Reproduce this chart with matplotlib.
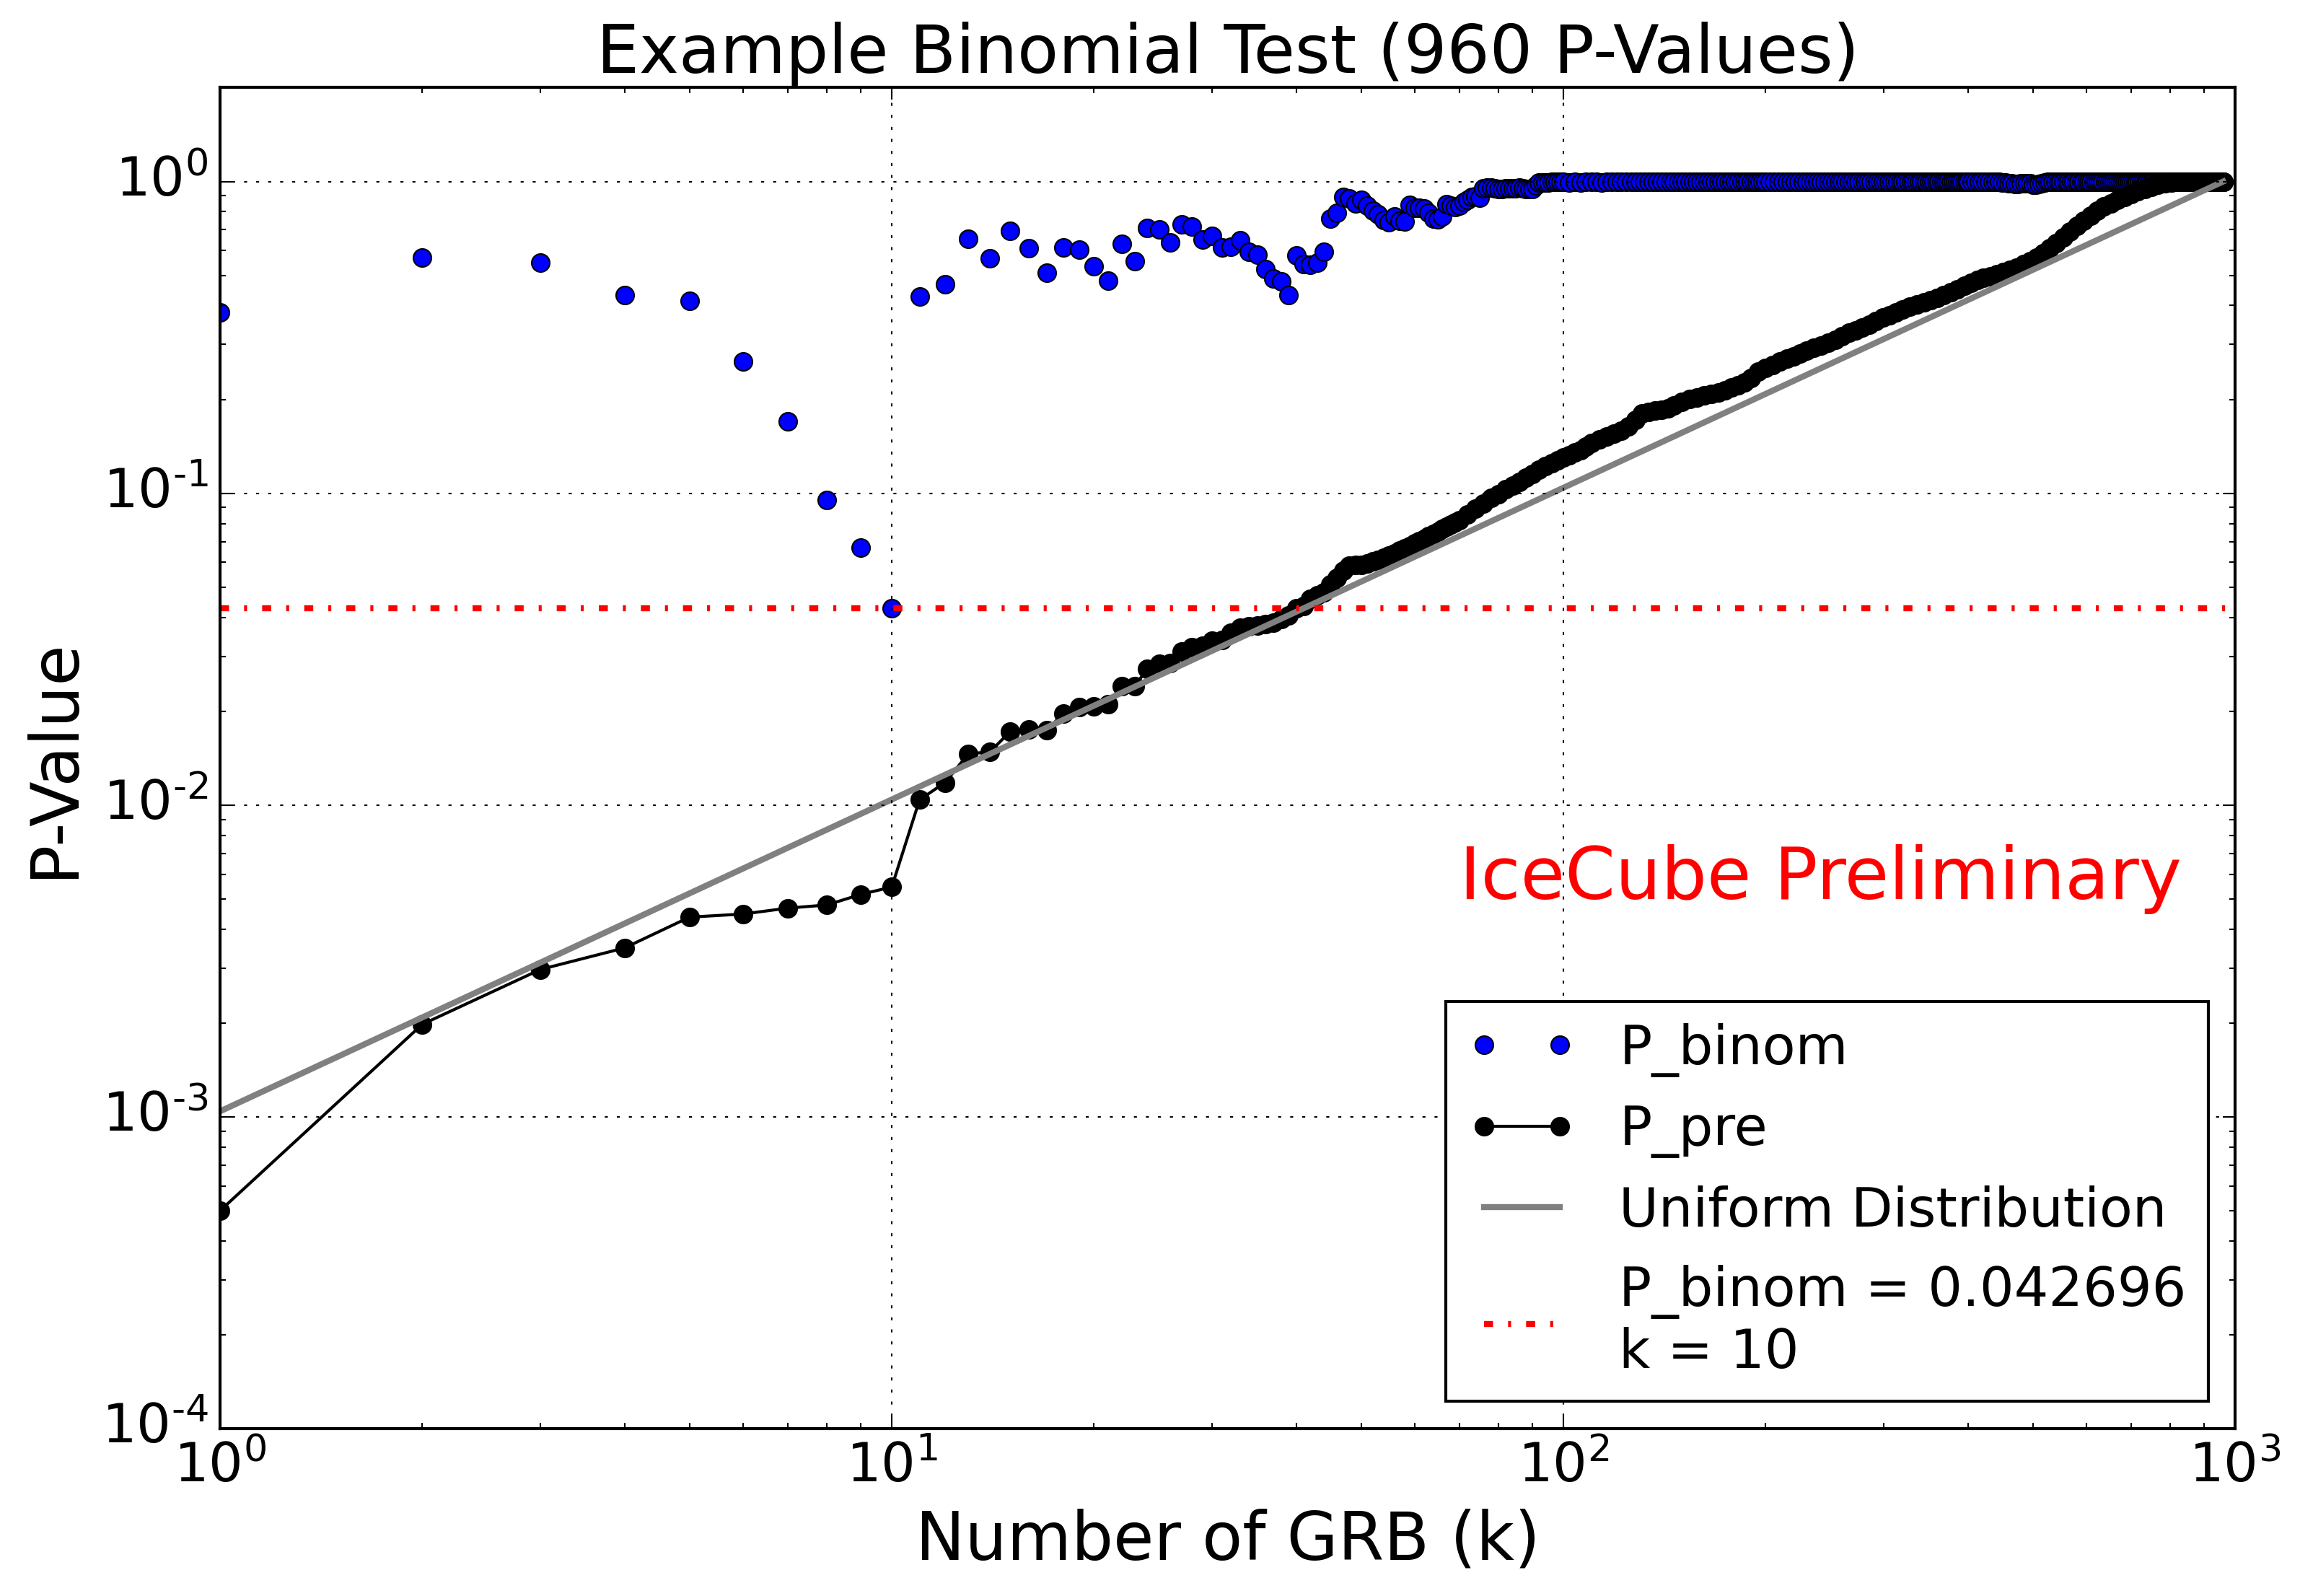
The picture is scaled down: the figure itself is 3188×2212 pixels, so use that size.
import matplotlib
matplotlib.use('Agg')
import matplotlib.pyplot as plt
from matplotlib.ticker import FuncFormatter
import numpy as np

plt.style.use('classic')

# P_binom at each number of GRBs k (every k up to 100, then sampled)
k_binom = (list(range(1, 101)) + list(range(102, 200, 2))
           + list(range(200, 400, 3)) + list(range(400, 961, 5)))
p_binom = [
    0.380, 0.569, 0.548, 0.431, 0.413, 0.265, 0.170, 0.0949, 0.0668, 0.042696,
    0.427, 0.469, 0.653, 0.566, 0.693, 0.610, 0.511, 0.614, 0.606, 0.534,
    0.480, 0.630, 0.554, 0.708, 0.700, 0.636, 0.728, 0.716, 0.652, 0.670,
    0.613, 0.618, 0.649, 0.594, 0.583, 0.523, 0.488, 0.478, 0.431, 0.578,
    0.544, 0.541, 0.550, 0.594, 0.759, 0.792, 0.890, 0.882, 0.851, 0.874,
    0.837, 0.807, 0.783, 0.752, 0.739, 0.772, 0.748, 0.743, 0.841, 0.822,
    0.822, 0.818, 0.793, 0.760, 0.755, 0.772, 0.844, 0.838, 0.829, 0.835,
    0.860, 0.874, 0.890, 0.898, 0.886, 0.950, 0.955, 0.956, 0.950, 0.948,
    0.946, 0.950, 0.950, 0.952, 0.953, 0.955, 0.950, 0.948, 0.944, 0.945,
    0.970, 0.990, 0.990, 0.990, 0.993, 0.995, 0.995, 0.995, 0.998, 1.0,
    # k = 102 .. 198
    0.990, 0.995, 0.990, 0.995, 0.995, 0.995, 0.990, 0.995, 0.995, 0.998,
    0.995, 0.998, 0.998, 0.998, 1.0, 0.998, 1.0, 1.0, 0.998, 1.0,
    1.0, 0.998, 1.0, 1.0, 1.0, 0.998, 1.0, 1.0, 1.0, 1.0,
    1.0, 1.0, 0.998, 1.0, 1.0, 1.0, 1.0, 1.0, 1.0, 1.0,
    1.0, 1.0, 1.0, 1.0, 1.0, 1.0, 1.0, 1.0, 1.0,
    # k = 200 .. 398
    1.0, 1.0, 1.0, 1.0, 1.0, 1.0, 1.0, 1.0, 1.0, 1.0,
    1.0, 1.0, 1.0, 1.0, 1.0, 1.0, 1.0, 1.0, 1.0, 1.0,
    1.0, 1.0, 1.0, 1.0, 1.0, 1.0, 1.0, 1.0, 1.0, 1.0,
    1.0, 1.0, 1.0, 1.0, 1.0, 1.0, 1.0, 1.0, 1.0, 1.0,
    1.0, 1.0, 1.0, 1.0, 1.0, 1.0, 1.0, 1.0, 1.0, 1.0,
    1.0, 1.0, 1.0, 1.0, 1.0, 1.0, 1.0, 1.0, 1.0, 1.0,
    1.0, 1.0, 1.0, 1.0, 0.998, 0.998, 0.998,
    # k = 400 .. 960
    1.0, 1.0, 1.0, 1.0, 0.998, 0.998, 0.998, 0.998,
    0.995, 0.995, 0.993, 0.990, 0.985, 0.985, 0.982, 0.980, 0.985, 0.988,
    0.988, 0.985, 0.978, 0.978, 0.982, 0.985, 0.990, 0.995, 0.998,
    1.0, 1.0, 1.0, 1.0, 1.0, 1.0, 1.0, 1.0, 1.0, 1.0,
    1.0, 1.0, 1.0, 1.0, 1.0, 1.0, 1.0, 1.0, 1.0, 1.0,
    1.0, 1.0, 1.0, 1.0, 1.0, 1.0, 1.0, 1.0, 1.0, 1.0,
    1.0, 1.0, 1.0, 1.0, 1.0, 1.0, 1.0, 1.0, 1.0, 1.0,
    1.0, 1.0, 1.0, 1.0, 1.0, 1.0, 1.0, 1.0, 1.0, 1.0,
    1.0, 1.0, 1.0, 1.0, 1.0, 1.0, 1.0, 1.0, 1.0, 1.0,
    1.0, 1.0, 1.0, 1.0, 1.0, 1.0, 1.0, 1.0, 1.0, 1.0,
    1.0, 1.0, 1.0, 1.0, 1.0, 1.0, 1.0, 1.0, 1.0, 1.0,
    1.0, 1.0, 1.0, 1.0, 1.0, 1.0]

# sorted P_pre, every k up to 70 and then sampled along the curve
k_pre = list(range(1, 71)) + [
    72, 74, 76, 78, 80, 82, 84, 86, 88, 90, 92, 94, 96, 98, 100,
    102, 104, 106, 108, 110,
    113, 116, 119, 122, 125, 128, 131, 134, 137, 140, 143, 146,
    150, 154, 158, 162, 166, 170, 174, 178, 182, 186, 190,
    195, 200, 205, 210, 215, 220, 225, 230,
    236, 242, 248, 254, 260, 266, 272, 278,
    285, 292, 299, 306, 313, 320,
    328, 336, 344, 352, 360, 368,
    377, 386, 395, 404, 413, 422,
    432, 442, 452, 462,
    473, 484, 495, 506, 518, 530, 542,
    555, 568, 581, 595, 609, 623, 638, 653, 668, 684, 700, 716, 733,
    750, 768, 786, 804, 823, 842, 862, 882, 903, 924, 945, 960]
p_pre = [
    0.0005, 0.00198, 0.00297, 0.00348, 0.00437, 0.00447, 0.00467, 0.00478, 0.00517, 0.00546,
    0.0104, 0.0118, 0.0146, 0.0148, 0.0172, 0.0175, 0.0174, 0.0196, 0.0206, 0.0207,
    0.0211, 0.0241, 0.0240, 0.0274, 0.0284, 0.0286, 0.0310, 0.0321, 0.0324, 0.0336,
    0.0339, 0.0357, 0.0370, 0.0374, 0.0377, 0.0380, 0.0384, 0.0395, 0.0405, 0.0427,
    0.0434, 0.0458, 0.0470, 0.0480, 0.0510, 0.0535, 0.0565, 0.0585, 0.0588, 0.0590,
    0.0595, 0.0605, 0.0610, 0.0620, 0.0632, 0.0643, 0.0655, 0.0665, 0.0677, 0.0690,
    0.0702, 0.0715, 0.0727, 0.0740, 0.0753, 0.0767, 0.0780, 0.0793, 0.0806, 0.0820,
    0.0853, 0.0890, 0.0925, 0.0965, 0.0995, 0.103, 0.106, 0.1085, 0.112, 0.1155,
    0.119, 0.122, 0.125, 0.1275, 0.130,
    0.1325, 0.135, 0.1375, 0.141, 0.145,
    0.149, 0.152, 0.155, 0.1585, 0.164, 0.172, 0.180, 0.1825, 0.184, 0.1855, 0.187, 0.191,
    0.196, 0.201, 0.203, 0.2055, 0.208, 0.210, 0.2135, 0.218, 0.222, 0.2265, 0.234,
    0.246, 0.252, 0.258, 0.264, 0.270, 0.275, 0.281, 0.287,
    0.293, 0.298, 0.304, 0.311, 0.319, 0.327, 0.333, 0.340,
    0.348, 0.357, 0.366, 0.373, 0.380, 0.388,
    0.396, 0.403, 0.409, 0.416, 0.423, 0.432,
    0.442, 0.452, 0.462, 0.473, 0.482, 0.490,
    0.497, 0.505, 0.512, 0.520,
    0.530, 0.542, 0.555, 0.570, 0.590, 0.612, 0.634,
    0.660, 0.690, 0.720, 0.750, 0.778, 0.805, 0.830, 0.852, 0.872, 0.893, 0.912, 0.930, 0.948,
    0.962, 0.975, 0.985, 0.992, 0.996, 0.998, 1.0, 1.0, 1.0, 1.0, 1.0, 1.0]

uniform_k = [1, 960]
uniform_p = [1.0 / 960, 1.0]

p_binom_min = 0.042696
k_min = 10


def decade_label(val, pos):
    # old style 10^n labels with a short hyphen in the exponent
    exp = int(round(np.log10(val)))
    return r'$\mathdefault{10^{%s}}$' % str(exp).replace('-', '\u2010')


fig = plt.figure(figsize=(3188 / 300.0, 2212 / 300.0), dpi=300, facecolor='white')
ax = fig.add_axes([0.0957, 0.1049, 0.8761, 0.8402])

ax.plot(k_binom, p_binom, 'bo', mec='k', mew=0.5, ms=6, label='P_binom')
ax.plot(k_pre, p_pre, 'ko-', ms=6, lw=1, label='P_pre')
ax.plot(uniform_k, uniform_p, color='gray', lw=2, label='Uniform Distribution')
ax.axhline(p_binom_min, color='r', ls='-.', lw=2,
           label='P_binom = %f\nk = %d' % (p_binom_min, k_min))

ax.set_xscale('log')
ax.set_yscale('log')
ax.set_xlim(1, 1000)
ax.set_ylim(1e-4, 2)
ax.xaxis.set_major_formatter(FuncFormatter(decade_label))
ax.yaxis.set_major_formatter(FuncFormatter(decade_label))
ax.grid(True)

ax.set_title('Example Binomial Test (960 P-Values)', fontsize=22.4)
ax.set_xlabel('Number of GRB (k)', fontsize=22)
ax.set_ylabel('P-Value', fontsize=22)
ax.tick_params(labelsize=18)

ax.text(70, 5e-3, 'IceCube Preliminary', color='r', fontsize=24)
ax.legend(loc='lower right', fontsize=18, numpoints=2)

fig.savefig('out.png', dpi=300, facecolor='white')
